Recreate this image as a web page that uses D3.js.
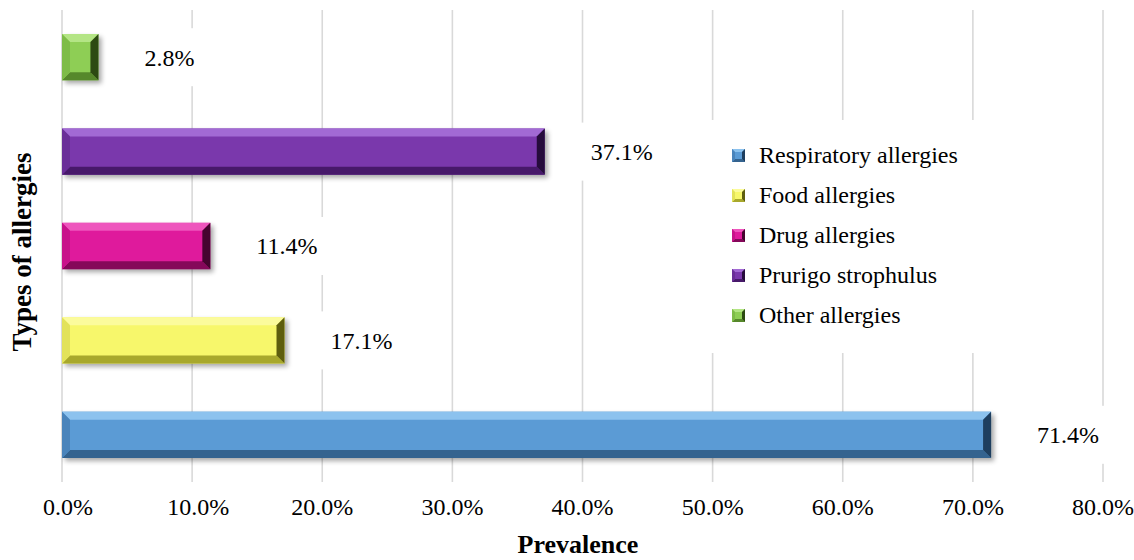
<!DOCTYPE html>
<html><head><meta charset="utf-8">
<script src="https://cdn.jsdelivr.net/npm/d3@7"></script>
<style>body{margin:0;background:#fff}svg{display:block}text{font-family:"Liberation Serif","Times New Roman",serif;fill:#000}</style>
</head><body><svg id="c" width="1134" height="560"></svg>
<script>
const categories = ["Other allergies","Prurigo strophulus","Drug allergies","Food allergies","Respiratory allergies"];
const values = [2.8, 37.1, 11.4, 17.1, 71.4];
const legendOrder = ["Respiratory allergies","Food allergies","Drug allergies","Prurigo strophulus","Other allergies"];
const xTicks = [0,10,20,30,40,50,60,70,80];
const palette = {
  "Respiratory allergies": {face:"#5B9BD5", top:"#8CC2EE", bot:"#34638F", left:"#4A84BB", right:"#1E3E5E"},
  "Food allergies":        {face:"#F7F76B", top:"#FBFB9C", bot:"#A8A82C", left:"#E2E25A", right:"#5E5E0E"},
  "Drug allergies":        {face:"#DF1A9C", top:"#EE55BD", bot:"#85085A", left:"#C8128A", right:"#45042F"},
  "Prurigo strophulus":    {face:"#7A38AC", top:"#A26AD4", bot:"#47196A", left:"#6A2E98", right:"#260C3C"},
  "Other allergies":       {face:"#8ECE55", top:"#B4E585", bot:"#56882B", left:"#7EBC48", right:"#2C4A12"}
};

const svg = d3.select("#c");
const x = d3.scaleLinear().domain([0,80]).range([62,1103]);
const y = d3.scaleBand().domain(categories).range([10,482]).paddingInner(0.51).paddingOuter(0.255);

const defs = svg.append("defs");
const f = defs.append("filter").attr("id","sh").attr("x","-10%").attr("y","-30%").attr("width","130%").attr("height","170%");
f.append("feGaussianBlur").attr("stdDeviation",2.5);

// gridlines
svg.append("g").selectAll("line").data(xTicks).join("line")
  .attr("x1",d=>x(d)).attr("x2",d=>x(d)).attr("y1",10).attr("y2",482)
  .attr("stroke","#d9d9d9").attr("stroke-width",1.6);

// tick labels
svg.append("g").selectAll("text").data(xTicks).join("text")
  .attr("x",d=>x(d)+ (d<20?6:0)).attr("y",515).attr("text-anchor","middle")
  .attr("font-size",24).text(d=>d3.format(".1f")(d)+"%");

function bevelBar(g, x0, x1, y0, y1, c, b, shadow){
  if(shadow){
    g.append("rect").attr("x",x0+3).attr("y",y0+3).attr("width",x1-x0).attr("height",y1-y0)
      .attr("fill","#000").attr("opacity",0.35).attr("filter","url(#sh)");
  }
  g.append("rect").attr("x",x0).attr("y",y0).attr("width",x1-x0).attr("height",y1-y0).attr("fill",c.face);
  const bb = Math.min(b,(x1-x0)/2);
  const poly = (pts,fill)=>g.append("polygon").attr("points",pts.map(p=>p.join(",")).join(" ")).attr("fill",fill);
  poly([[x0,y0],[x1,y0],[x1-bb,y0+b],[x0+bb,y0+b]], c.top);
  poly([[x0,y1],[x1,y1],[x1-bb,y1-b],[x0+bb,y1-b]], c.bot);
  poly([[x0,y0],[x0+bb,y0+b],[x0+bb,y1-b],[x0,y1]], c.left);
  poly([[x1,y0],[x1,y1],[x1-bb,y1-b],[x1-bb,y0+b]], c.right);
}

const labelGap = 46;
// label backgrounds
const lab = svg.append("g");
categories.forEach((cat,i)=>{
  const cx = x(values[i]) + labelGap;
  const cy = y(cat)+y.bandwidth()/2;
  lab.append("rect").attr("x",cx-30).attr("y",cy-29).attr("width",125).attr("height",58).attr("fill","#fff");
});

// legend background
const lg = svg.append("g");
lg.append("rect").attr("x",705).attr("y",120).attr("width",272).attr("height",233).attr("fill","#fff");

// bars
const bars = svg.append("g");
categories.forEach((cat,i)=>{
  const g = bars.append("g");
  bevelBar(g, x(0), x(values[i]), y(cat), y(cat)+y.bandwidth(), palette[cat], 8, true);
});

categories.forEach((cat,i)=>{
  const cy = y(cat)+y.bandwidth()/2;
  lab.append("text").attr("x",x(values[i])+labelGap).attr("y",cy).attr("dy","0.35em")
    .attr("font-size",24).text(values[i].toFixed(1)+"%");
});

legendOrder.forEach((cat,i)=>{
  const cy = 155 + i*40;
  const g = lg.append("g");
  bevelBar(g, 732, 745, cy-6, cy+7, palette[cat], 3, false);
  lg.append("text").attr("x",759).attr("y",cy).attr("dy","0.35em").attr("font-size",24).text(cat);
});

// axis titles
svg.append("text").attr("x",578).attr("y",553).attr("text-anchor","middle")
  .attr("font-size",26).attr("font-weight","bold").text("Prevalence");
svg.append("text").attr("transform","translate(31,252) rotate(-90)").attr("text-anchor","middle")
  .attr("font-size",27).attr("font-weight","bold").text("Types of allergies");
</script></body></html>
